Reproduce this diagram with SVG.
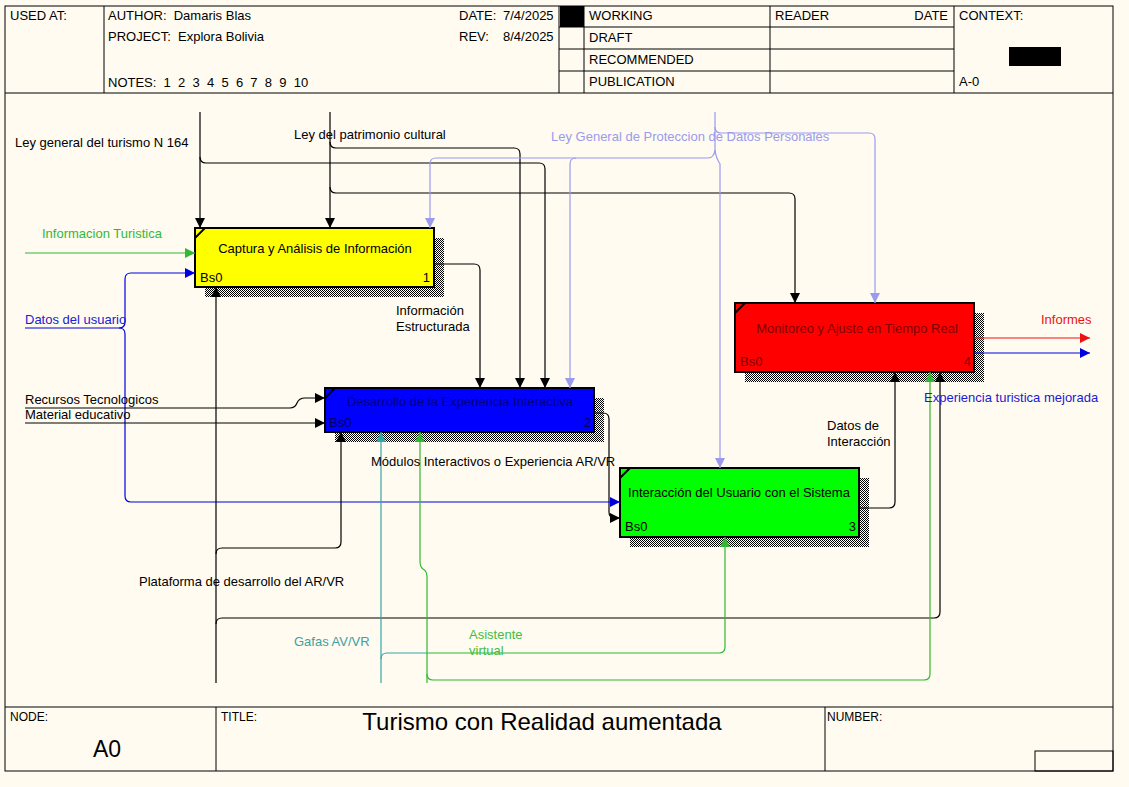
<svg xmlns="http://www.w3.org/2000/svg" width="1129" height="787" viewBox="0 0 1129 787">
<style>
text{font-family:"Liberation Sans",Arial,sans-serif;font-size:13px;fill:#000}
.frame{fill:none;stroke:#000;stroke-width:1}
.box{stroke:#000;stroke-width:2}
.shadow{fill:url(#hatch)}
.c{fill:none;stroke-width:1.2}
.k{stroke:#000}
.g{stroke:#33b833}
.b{stroke:#0000e0}
.l{stroke:#9a9aee}
.t{stroke:#33a6a6}
.r{stroke:#ee1111}
</style>
<defs>
<pattern id="hatch" width="2" height="2" patternUnits="userSpaceOnUse">
<rect width="2" height="2" fill="#fff"/>
<rect width="1" height="1" fill="#000"/>
<rect x="1" y="1" width="1" height="1" fill="#000"/>
</pattern>
<marker id="ak" viewBox="0 0 10 10" refX="10" refY="5" markerWidth="10" markerHeight="10" markerUnits="userSpaceOnUse" orient="auto"><path d="M0,0L10,5L0,10z" fill="#000"/></marker>
<marker id="ag" viewBox="0 0 10 10" refX="10" refY="5" markerWidth="10" markerHeight="10" markerUnits="userSpaceOnUse" orient="auto"><path d="M0,0L10,5L0,10z" fill="#33b833"/></marker>
<marker id="ab" viewBox="0 0 10 10" refX="10" refY="5" markerWidth="10" markerHeight="10" markerUnits="userSpaceOnUse" orient="auto"><path d="M0,0L10,5L0,10z" fill="#0000e0"/></marker>
<marker id="al" viewBox="0 0 10 10" refX="10" refY="5" markerWidth="10" markerHeight="10" markerUnits="userSpaceOnUse" orient="auto"><path d="M0,0L10,5L0,10z" fill="#9a9aee"/></marker>
<marker id="at" viewBox="0 0 10 10" refX="10" refY="5" markerWidth="10" markerHeight="10" markerUnits="userSpaceOnUse" orient="auto"><path d="M0,0L10,5L0,10z" fill="#33a6a6"/></marker>
<marker id="ar" viewBox="0 0 10 10" refX="10" refY="5" markerWidth="10" markerHeight="10" markerUnits="userSpaceOnUse" orient="auto"><path d="M0,0L10,5L0,10z" fill="#ee1111"/></marker>
</defs>
<rect width="1129" height="787" fill="#fffbf0"/>
<g id="frame">
<rect class="frame" x="5" y="6" width="1108" height="765"/>
<line class="frame" x1="5" y1="93" x2="1113" y2="93"/>
<line class="frame" x1="104" y1="6" x2="104" y2="93"/>
<line class="frame" x1="559" y1="6" x2="559" y2="93"/>
<line class="frame" x1="584" y1="6" x2="584" y2="93"/>
<line class="frame" x1="770" y1="6" x2="770" y2="93"/>
<line class="frame" x1="954" y1="6" x2="954" y2="93"/>
<line class="frame" x1="559" y1="27" x2="954" y2="27"/>
<line class="frame" x1="559" y1="49" x2="954" y2="49"/>
<line class="frame" x1="559" y1="71" x2="954" y2="71"/>
<rect x="560" y="6" width="24" height="21" fill="#000"/>
<rect x="1009" y="47" width="52" height="19" fill="#000"/>
<text x="10" y="20">USED AT:</text>
<text x="108" y="20" xml:space="preserve">AUTHOR:  Damaris Blas</text>
<text x="108" y="41" xml:space="preserve">PROJECT:  Explora Bolivia</text>
<text x="108" y="87" xml:space="preserve">NOTES:  1  2  3  4  5  6  7  8  9  10</text>
<text x="459" y="20">DATE:</text><text x="503" y="20">7/4/2025</text>
<text x="459" y="41">REV:</text><text x="503" y="41">8/4/2025</text>
<text x="589" y="20">WORKING</text>
<text x="589" y="42">DRAFT</text>
<text x="589" y="64">RECOMMENDED</text>
<text x="589" y="86">PUBLICATION</text>
<text x="775" y="20">READER</text>
<text x="948" y="20" text-anchor="end">DATE</text>
<text x="959" y="20">CONTEXT:</text>
<text x="959" y="86">A-0</text>
<line class="frame" x1="5" y1="707" x2="1113" y2="707"/>
<line class="frame" x1="216" y1="707" x2="216" y2="771"/>
<line class="frame" x1="825" y1="707" x2="825" y2="771"/>
<rect class="frame" x="1035" y="751" width="78" height="20"/>
<text x="10" y="721" style="font-size:12px">NODE:</text>
<text x="93" y="757" style="font-size:23px">A0</text>
<text x="221" y="721" style="font-size:12px">TITLE:</text>
<text x="542" y="730" text-anchor="middle" style="font-size:24px">Turismo con Realidad aumentada</text>
<text x="827" y="721" style="font-size:12px">NUMBER:</text>
</g>
<g id="node1">
<rect class="shadow" x="205" y="238" width="239" height="59"/>
<rect class="box" x="195" y="228" width="239" height="59" fill="#ffff00"/>
<path d="M195,238L205,228" stroke="#000" stroke-width="2"/>
<text x="315" y="253" text-anchor="middle">Captura y Análisis de Información</text>
<text x="200" y="282">Bs0</text>
<text x="430" y="282" text-anchor="end">1</text>
</g>
<g id="node2">
<rect class="shadow" x="335" y="398" width="269" height="44"/>
<rect class="box" x="325" y="388" width="269" height="44" fill="#0000ff"/>
<path d="M325,398L335,388" stroke="#000" stroke-width="2"/>
<text x="460" y="406" text-anchor="middle" style="fill:#000080">Desarrollo de la Experiencia Interactiva</text>
<text x="329" y="427" style="fill:#000060">Bs0</text>
<text x="591" y="427" text-anchor="end" style="fill:#000060">2</text>
</g>
<g id="node3">
<rect class="shadow" x="630" y="478" width="239" height="69"/>
<rect class="box" x="620" y="468" width="239" height="69" fill="#00ff00"/>
<path d="M620,478L630,468" stroke="#000" stroke-width="2"/>
<text x="739" y="497" text-anchor="middle">Interacción del Usuario con el Sistema</text>
<text x="625" y="531">Bs0</text>
<text x="856" y="531" text-anchor="end">3</text>
</g>
<g id="node4">
<rect class="shadow" x="745" y="313" width="239" height="69"/>
<rect class="box" x="735" y="303" width="239" height="69" fill="#ff0000"/>
<path d="M735,313L745,303" stroke="#000" stroke-width="2"/>
<text x="857" y="333" text-anchor="middle" style="fill:#800000">Monitoreo y Ajuste en Tiempo Real</text>
<text x="740" y="366" style="fill:#800000">Bs0</text>
<text x="971" y="366" text-anchor="end" style="fill:#800000">4</text>
</g>
<g id="connectors">
<path class="c k" d="M200,112V228" marker-end="url(#ak)"/>
<path class="c k" d="M200,157Q200,163 206,163H539Q545,163 545,169V388" marker-end="url(#ak)"/>
<path class="c k" d="M330,112V228" marker-end="url(#ak)"/>
<path class="c k" d="M330,142Q330,148 336,148H514Q520,148 520,154V388" marker-end="url(#ak)"/>
<path class="c k" d="M330,187Q330,193 336,193H789Q795,193 795,199V303" marker-end="url(#ak)"/>
<path class="c l" d="M715,112V150Q716,158 720,164V468" marker-end="url(#al)"/>
<path class="c l" d="M715,127Q715,133 721,133H869Q875,133 875,139V303" marker-end="url(#al)"/>
<path class="c l" d="M715,150Q714,158 708,158H436Q430,158 430,164V228" marker-end="url(#al)"/>
<path class="c l" d="M576,158Q570,158 570,164V388" marker-end="url(#al)"/>
<path class="c k" d="M434,264H474Q480,264 480,270V388" marker-end="url(#ak)"/>
<path class="c k" d="M594,413H603Q609,413 609,419V512Q609,518 615,518H620" marker-end="url(#ak)"/>
<path class="c k" d="M859,508H889Q895,508 895,502V372" marker-end="url(#ak)"/>
<path class="c g" d="M25,253H195" marker-end="url(#ag)"/>
<path class="c b" d="M25,328H119Q125,328 125,322V279Q125,273 131,273H195" marker-end="url(#ab)"/>
<path class="c b" d="M119,328Q125,328 125,334V496Q125,502 131,502H620" marker-end="url(#ab)"/>
<path class="c k" d="M25,408H290Q295,408 297,403Q299,398 305,398H325" marker-end="url(#ak)"/>
<path class="c k" d="M25,423H325" marker-end="url(#ak)"/>
<path class="c r" d="M974,338H1090" marker-end="url(#ar)"/>
<path class="c b" d="M974,353H1090" marker-end="url(#ab)"/>
<path class="c k" d="M216,683V287" marker-end="url(#ak)"/>
<path class="c k" d="M216,554Q216,548 222,548H335Q341,548 341,542V432" marker-end="url(#ak)"/>
<path class="c k" d="M216,624Q216,618 222,618H934Q940,618 940,612V372" marker-end="url(#ak)"/>
<path class="c t" d="M381,683V432" marker-end="url(#at)"/>
<path class="c t" d="M381,659Q381,653 387,653H427"/>
<path class="c g" d="M427,683V577Q427,571 423,569Q420,567 420,561V432" marker-end="url(#ag)"/>
<path class="c g" d="M427,653H719Q725,653 725,647V537" marker-end="url(#ag)"/>
<path class="c g" d="M427,674Q427,680 433,680H924Q930,680 930,674V372" marker-end="url(#ag)"/>
</g>
<g id="labels">
<text x="15" y="147">Ley general del turismo N 164</text>
<text x="294" y="139">Ley del patrimonio cultural</text>
<text x="551" y="141" style="fill:#9a9aee">Ley General de Proteccion de Datos Personales</text>
<text x="42" y="238" style="fill:#33b833">Informacion Turistica</text>
<text x="25" y="324" style="fill:#2020d0">Datos del usuario</text>
<text x="396" y="315">Información</text>
<text x="396" y="331">Estructurada</text>
<text x="25" y="404">Recursos Tecnologicos</text>
<text x="25" y="419">Material educativo</text>
<text x="371" y="466">Módulos Interactivos o Experiencia AR/VR</text>
<text x="827" y="430">Datos de</text>
<text x="827" y="446">Interacción</text>
<text x="1041" y="324" style="fill:#ee1111">Informes</text>
<text x="924" y="402" style="fill:#1a1ad0">Experiencia turistica mejorada</text>
<text x="139" y="586">Plataforma de desarrollo del AR/VR</text>
<text x="294" y="646" style="fill:#40a0a0">Gafas AV/VR</text>
<text x="469" y="639" style="fill:#44bb44">Asistente</text>
<text x="469" y="655" style="fill:#44bb44">virtual</text>
</g>
</svg>
